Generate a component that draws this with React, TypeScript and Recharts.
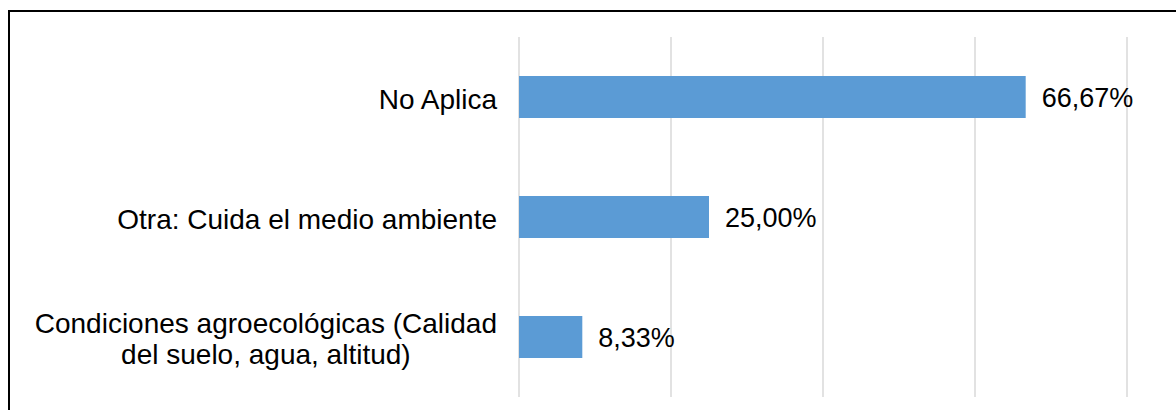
import React from 'react'
import { BarChart, Bar, XAxis, YAxis, CartesianGrid, LabelList } from 'recharts'

const categories = [
  'No Aplica',
  'Otra: Cuida el medio ambiente',
  'Condiciones agroecológicas (Calidad del suelo, agua, altitud)',
]
const percentages = [66.67, 25.0, 8.33]
const gridTicks = [0, 20, 40, 60, 80]

const data = categories.map((name, i) => ({ name, value: percentages[i] }))

const FONT = '"Liberation Sans", Arial, sans-serif'
const CAT_SIZE = 28
const VAL_SIZE = 27
const LINE_HEIGHT = 31

let ctx: CanvasRenderingContext2D | null = null
const measure = (s: string) => {
  if (!ctx) {
    ctx = document.createElement('canvas').getContext('2d')
    if (ctx) ctx.font = `${CAT_SIZE}px "Liberation Sans"`
  }
  return ctx ? ctx.measureText(s).width : s.length * CAT_SIZE * 0.5
}

const wrap = (s: string, max = 36) => {
  const words = s.split(' ')
  const lines: string[] = []
  let cur = ''
  words.forEach(w => {
    const next = cur ? cur + ' ' + w : w
    if (next.length > max && cur) {
      lines.push(cur)
      cur = w
    } else cur = next
  })
  if (cur) lines.push(cur)
  return lines
}

const CategoryTick = (props: any) => {
  const { x, y, payload } = props
  const lines = wrap(payload.value)
  const right = x - 14
  const blockW = Math.max(...lines.map(measure))
  const cx = right - blockW / 2
  const top = y - ((lines.length - 1) * LINE_HEIGHT) / 2 + 2
  return (
    <g>
      {lines.map((l, i) => (
        <text
          key={i}
          x={lines.length > 1 ? cx : right}
          y={top + i * LINE_HEIGHT}
          textAnchor={lines.length > 1 ? 'middle' : 'end'}
          dominantBaseline="central"
          fontFamily={FONT}
          fontSize={CAT_SIZE}
          fill="#000"
        >
          {l}
        </text>
      ))}
    </g>
  )
}

const EmptyTick = () => <g />

const fmt = (v: any) => Number(v).toFixed(2).replace('.', ',') + '%'

export default function App() {
  return (
    <div
      style={{
        position: 'absolute',
        left: 8,
        top: 10,
        width: 1168,
        height: 400,
        borderTop: '2px solid #000',
        borderLeft: '2px solid #000',
        background: '#fff',
      }}
    >
      <BarChart
        width={1166}
        height={398}
        data={data}
        layout="vertical"
        barSize={42}
        margin={{ top: 25, right: 49, bottom: 13, left: 0 }}
      >
        <CartesianGrid horizontal={false} stroke="#d9d9d9" strokeWidth={1.5} />
        <XAxis
          type="number"
          domain={[0, 80]}
          ticks={gridTicks}
          interval={0}
          height={0}
          tick={<EmptyTick />}
          axisLine={false}
          tickLine={false}
        />
        <YAxis
          type="category"
          dataKey="name"
          width={509}
          axisLine={false}
          tickLine={false}
          tick={<CategoryTick />}
        />
        <Bar dataKey="value" fill="#5b9bd5" isAnimationActive={false}>
          <LabelList
            dataKey="value"
            position="right"
            offset={16}
            formatter={fmt}
            style={{ fontFamily: FONT, fontSize: VAL_SIZE, fill: '#000' }}
          />
        </Bar>
      </BarChart>
    </div>
  )
}
